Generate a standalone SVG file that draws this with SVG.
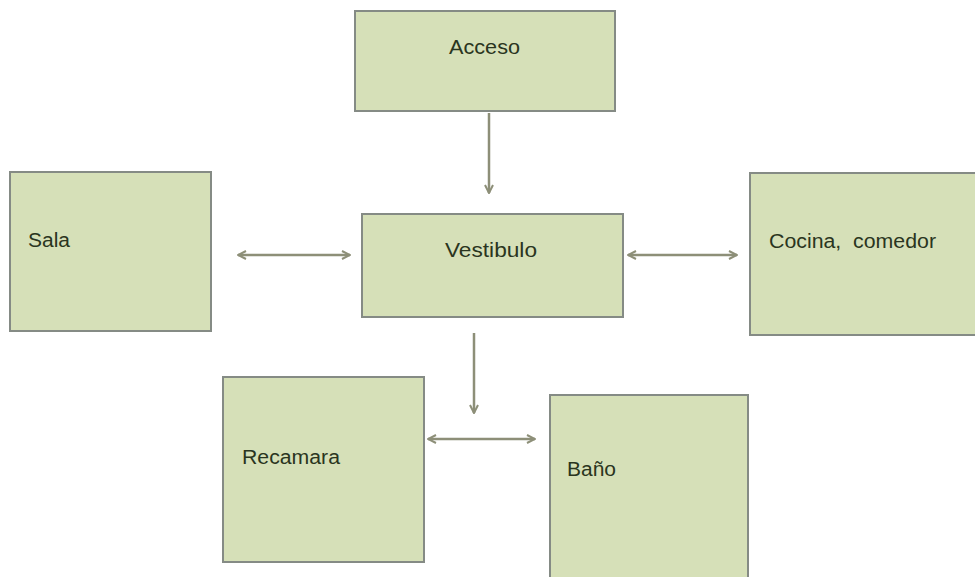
<svg xmlns="http://www.w3.org/2000/svg" width="975" height="577" viewBox="0 0 975 577">
<style>
.box{fill:#d6e0b8;stroke:#858b85;stroke-width:2}
.lbl{font-family:"Liberation Sans",Arial,sans-serif;font-size:20px;fill:#2a3520}
.con{stroke:#8d8f78;stroke-width:2.5;fill:none}
</style>
<defs>
<marker id="ah" viewBox="0 0 10 10" refX="9" refY="5" markerWidth="4" markerHeight="4" orient="auto-start-reverse">
<path d="M1,1 L9,5 L1,9" fill="none" stroke="#8d8f78" stroke-width="2"/>
</marker>
</defs>
<rect width="975" height="577" fill="#ffffff"/>
<g id="acceso"><rect class="box" x="355" y="11" width="260" height="100"/><text class="lbl" x="449" y="54" textLength="71" lengthAdjust="spacingAndGlyphs">Acceso</text></g>
<g id="vestibulo"><rect class="box" x="362" y="214" width="261" height="103"/><text class="lbl" x="445" y="257" textLength="92" lengthAdjust="spacingAndGlyphs">Vestibulo</text></g>
<g id="sala"><rect class="box" x="10" y="172" width="201" height="159"/><text class="lbl" x="28" y="247" textLength="42" lengthAdjust="spacingAndGlyphs">Sala</text></g>
<g id="cocina"><rect class="box" x="750" y="173" width="230" height="162"/><text class="lbl" x="769" y="248" textLength="167" lengthAdjust="spacingAndGlyphs" xml:space="preserve">Cocina,  comedor</text></g>
<g id="recamara"><rect class="box" x="223" y="377" width="201" height="185"/><text class="lbl" x="242" y="464" textLength="98" lengthAdjust="spacingAndGlyphs">Recamara</text></g>
<g id="bano"><rect class="box" x="550" y="395" width="198" height="186"/><text class="lbl" x="567" y="476" textLength="49" lengthAdjust="spacingAndGlyphs">Baño</text></g>
<g id="connectors">
<line class="con" x1="489" y1="113" x2="489" y2="193" marker-end="url(#ah)"/>
<line class="con" x1="474" y1="333" x2="474" y2="413" marker-end="url(#ah)"/>
<line class="con" x1="238" y1="255" x2="350" y2="255" marker-start="url(#ah)" marker-end="url(#ah)"/>
<line class="con" x1="628" y1="255" x2="737" y2="255" marker-start="url(#ah)" marker-end="url(#ah)"/>
<line class="con" x1="428" y1="439" x2="535" y2="439" marker-start="url(#ah)" marker-end="url(#ah)"/>
</g>
</svg>
